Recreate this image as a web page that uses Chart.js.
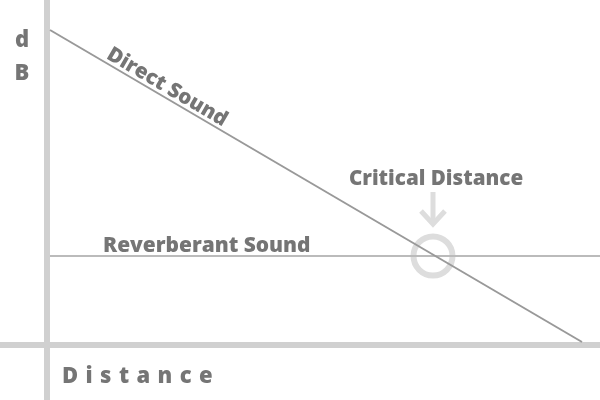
<!DOCTYPE html>
<html>
<head>
<meta charset="utf-8">
<script src="https://cdn.jsdelivr.net/npm/chart.js@4"></script>
<style>
  html, body { margin: 0; padding: 0; background: #fff; }
  #wrap { width: 600px; height: 400px; }
</style>
</head>
<body>
<div id="wrap"><canvas id="chart"></canvas></div>
<script>
// Scale units: origin where the two axes cross
const xRange = [-47, 553];
const yRange = [-55, 345];

// Direct sound falls off with distance, reverberant sound stays flat
const directSound = [{ x: 3, y: 315 }, { x: 535, y: 3 }];
const reverberantSound = [{ x: 3, y: 89 }, { x: 553, y: 89 }];
const criticalDistance = [{ x: 386, y: 89 }];

// Axis lines
const distanceAxis = [{ x: -47, y: 0 }, { x: 553, y: 0 }];
const dbAxis = [{ x: 0, y: -55 }, { x: 0, y: 345 }];

const labels = {
  direct: "Direct Sound",
  reverberant: "Reverberant Sound",
  critical: "Critical Distance",
  xTitle: "Distance",
  yTitle: ["d", "B"],
};

const TEXT = "#757575";
const FONT = "'Open Sans', sans-serif";

// Draws the text labels and the arrow, positioned from the scales
const annotations = {
  id: "annotations",
  afterDatasetsDraw(chart) {
    const { ctx, scales } = chart;
    const px = (v) => scales.x.getPixelForValue(v);
    const py = (v) => scales.y.getPixelForValue(v);
    ctx.save();
    ctx.fillStyle = TEXT;

    // arrow above the critical distance circle
    const cx = px(criticalDistance[0].x);
    const cy = py(criticalDistance[0].y);
    ctx.strokeStyle = "#dddddd";
    ctx.lineWidth = 5;
    ctx.beginPath();
    ctx.moveTo(cx, cy - 64);
    ctx.lineTo(cx, cy - 32);
    ctx.stroke();
    ctx.beginPath();
    ctx.moveTo(cx - 12, cy - 45);
    ctx.lineTo(cx, cy - 32);
    ctx.lineTo(cx + 12, cy - 45);
    ctx.stroke();

    ctx.font = "800 20.6px " + FONT;
    ctx.textAlign = "center";
    ctx.textBaseline = "alphabetic";
    ctx.fillText(labels.critical, cx + 3, cy - 71);

    ctx.textAlign = "left";
    ctx.font = "800 20.9px " + FONT;
    ctx.fillText(labels.reverberant, px(3) + 53, py(reverberantSound[0].y) - 4);

    // Direct Sound along the falling line
    const x0 = px(directSound[0].x), y0 = py(directSound[0].y);
    const x1 = px(directSound[1].x), y1 = py(directSound[1].y);
    const ang = Math.atan2(y1 - y0, x1 - x0);
    ctx.save();
    ctx.translate(x0, y0);
    ctx.rotate(ang);
    ctx.textAlign = "left";
    ctx.font = "800 20.6px " + FONT;
    ctx.fillText(labels.direct, 62, -4);
    ctx.restore();

    // y title stacked
    ctx.textAlign = "center";
    ctx.font = "800 22px " + FONT;
    ctx.fillText(labels.yTitle[0], 22, 47);
    ctx.fillText(labels.yTitle[1], 22, 80);

    // x title, letter spaced
    ctx.textAlign = "left";
    ctx.letterSpacing = "7.4px";
    ctx.font = "800 22px " + FONT;
    ctx.fillText(labels.xTitle, px(0) + 15, py(0) + 38);
    ctx.restore();
  },
};

new Chart(document.getElementById("chart"), {
  type: "scatter",
  data: {
    datasets: [
      {
        data: directSound,
        showLine: true,
        borderColor: "#999999",
        borderWidth: 2,
        pointRadius: 0,
        order: 1,
      },
      {
        data: reverberantSound,
        showLine: true,
        borderColor: "#bbbbbb",
        borderWidth: 2,
        pointRadius: 0,
        order: 2,
      },
      {
        data: criticalDistance,
        pointRadius: 19.5,
        pointBorderWidth: 6,
        pointBorderColor: "#dddddd",
        pointBackgroundColor: "rgba(0,0,0,0)",
        order: 3,
      },
      {
        data: distanceAxis,
        showLine: true,
        borderColor: "#d0d0d0",
        borderWidth: 6,
        pointRadius: 0,
        order: 4,
      },
      {
        data: dbAxis,
        showLine: true,
        borderColor: "#d0d0d0",
        borderWidth: 6,
        pointRadius: 0,
        order: 4,
      },
    ],
  },
  options: {
    responsive: true,
    maintainAspectRatio: false,
    animation: false,
    layout: { padding: 0, autoPadding: false },
    clip: false,
    scales: {
      x: { type: "linear", min: xRange[0], max: xRange[1], display: false },
      y: { type: "linear", min: yRange[0], max: yRange[1], display: false },
    },
    plugins: {
      legend: { display: false },
      tooltip: { enabled: false },
    },
  },
  plugins: [annotations],
});
</script>
</body>
</html>
